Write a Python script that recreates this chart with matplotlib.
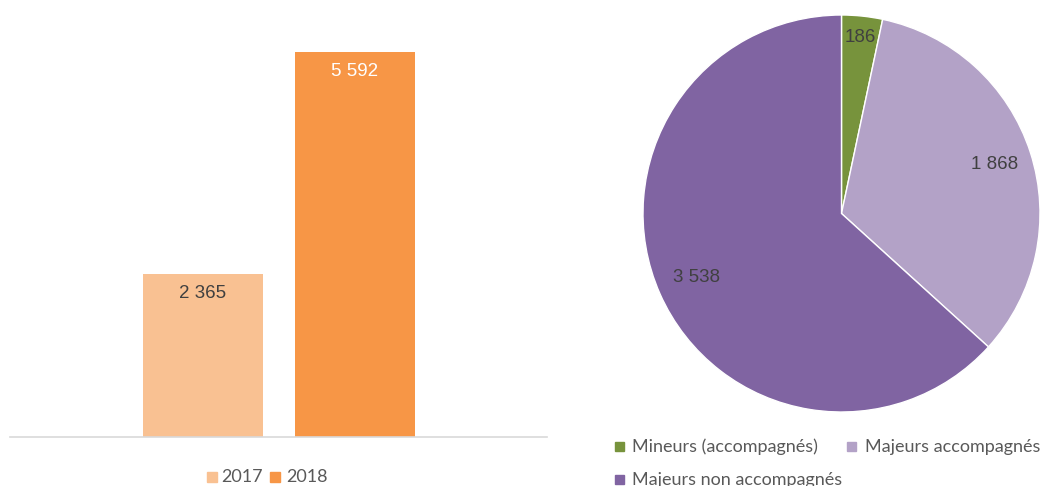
import numpy as np
import matplotlib.pyplot as plt
from matplotlib.patches import Rectangle

# Données
annees = ["2017", "2018"]
totaux = [2365, 5592]
couleurs_barres = ["#F9C192", "#F79646"]
couleurs_labels_barres = ["#404040", "#FFFFFF"]

categories = ["Mineurs (accompagnés)", "Majeurs accompagnés", "Majeurs non accompagnés"]
effectifs = [186, 1868, 3538]
couleurs_pie = ["#77933C", "#B3A2C7", "#8064A2"]
dist_labels = [0.89, 0.81, 0.80]

W, H = 1043, 486
fig = plt.figure(figsize=(W / 100, H / 100), dpi=100)

def px_axes(x0, y0, x1, y1):
    # coordonnées en pixels (origine en haut à gauche)
    return fig.add_axes([x0 / W, 1 - y1 / H, (x1 - x0) / W, (y1 - y0) / H])

def fmt(v):
    return f"{v:,}".replace(",", " ")

# --- Histogramme ---
ax1 = px_axes(10, 24, 547, 437)
pos = [-0.1406, 0.1425]
barres = ax1.bar(pos, totaux, width=0.2235, color=couleurs_barres)
for b, v, c in zip(barres, totaux, couleurs_labels_barres):
    ax1.text(b.get_x() + b.get_width() / 2, v - 280, fmt(v), ha="center", va="center",
             fontsize=13.5, color=c, family="Liberation Sans")
ax1.set_xlim(-0.5, 0.5)
ax1.set_ylim(0, 6000)
for s in ["top", "right", "left"]:
    ax1.spines[s].set_visible(False)
ax1.spines["bottom"].set_color("#D9D9D9")
ax1.spines["bottom"].set_linewidth(1.2)
ax1.set_xticks([])
ax1.set_yticks([])

# légende des années
for x_carre, x_txt, an, c in [(207, 221, "2017", couleurs_barres[0]), (270, 286, "2018", couleurs_barres[1])]:
    fig.patches.append(Rectangle((x_carre / W, 1 - 482 / H), 10 / W, 10 / H,
                                 transform=fig.transFigure, color=c))
    fig.text(x_txt / W, 1 - 477 / H, an, ha="left", va="center", fontsize=13,
             color="#595959", family="Lato")

# --- Camembert ---
ax2 = px_axes(643, 15, 1040, 412)
parts, _ = ax2.pie(effectifs, colors=couleurs_pie, startangle=90, counterclock=False,
                   wedgeprops=dict(edgecolor="white", linewidth=1))
for w, v, d in zip(parts, effectifs, dist_labels):
    ang = np.deg2rad((w.theta1 + w.theta2) / 2)
    ax2.text(d * np.cos(ang), d * np.sin(ang), fmt(v), ha="center", va="center",
             fontsize=13.5, color="#404040", family="Liberation Sans")
ax2.set_xlim(-1, 1)
ax2.set_ylim(-1, 1)
ax2.set_aspect("equal")
ax2.axis("off")

# légende des catégories
for (x_carre, y, x_txt), cat, c in zip([(615, 446, 632), (847, 446, 865), (615, 479, 632)],
                                        categories, couleurs_pie):
    fig.patches.append(Rectangle((x_carre / W, 1 - (y + 5) / H), 9 / W, 9 / H,
                                 transform=fig.transFigure, color=c))
    fig.text(x_txt / W, 1 - (y + 1) / H, cat, ha="left", va="center", fontsize=13,
             color="#595959", family="Lato")

fig.savefig("out.png", dpi=100)
